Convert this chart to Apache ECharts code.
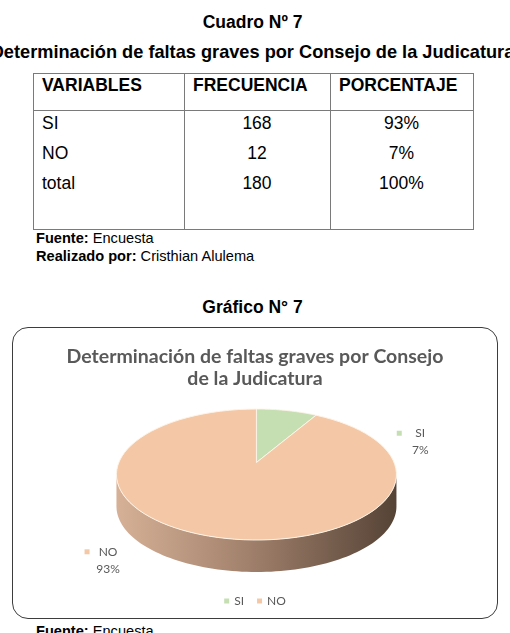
<!DOCTYPE html>
<html>
<head>
<meta charset="utf-8">
<script src="https://cdn.jsdelivr.net/npm/echarts@6/dist/echarts.min.js"></script>
<style>
body {
  margin: 0;
  width: 510px;
  height: 633px;
  overflow: hidden;
  background: #fff;
  position: relative;
  font-family: "Liberation Sans", Arial, sans-serif;
  color: #000;
}
.t {
  position: absolute;
  white-space: nowrap;
  height: 20px;
  line-height: 20px;
}
.head {
  left: 0;
  width: 505px;
  text-align: center;
  font-weight: bold;
  font-size: 17.5px;
}
.cell { font-size: 17.5px; }
.note { font-size: 14.6px; left: 36px; }
.line { position: absolute; background: #7a7a7a; }
#chart {
  position: absolute;
  left: 12px;
  top: 327px;
  width: 486px;
  height: 292px;
  box-sizing: border-box;
  border: 1.5px solid #3d3d3d;
  border-radius: 16px;
}
</style>
</head>
<body>
<div class="t head" style="top:12px">Cuadro Nº 7</div>
<div class="t head" style="top:42px;font-size:18.2px;left:-10px;width:525px">Determinación de faltas graves por Consejo de la Judicatura</div>
<div id="table"></div>
<div class="t note" style="top:228px"><b>Fuente:</b> Encuesta</div>
<div class="t note" style="top:246px"><b>Realizado por:</b> Cristhian Alulema</div>
<div class="t head" style="top:297px">Gráfico N° 7</div>
<div id="chart"></div>
<div class="t note" style="top:621px"><b>Fuente:</b> Encuesta</div>

<script>
// tabla (Cuadro Nº 7)
const tableHeaders = ["VARIABLES", "FRECUENCIA", "PORCENTAJE"];
const tableVariables = ["SI", "NO", "total"];
const tableFrecuencia = [168, 12, 180];
const tablePorcentaje = ["93%", "7%", "100%"];

// gráfico (Gráfico N° 7)
const pieNames = ["SI", "NO"];
const pieShares = [7, 93];
const pieColors = ["#c5dfb3", "#f4c8a6"];

// --- tabla en HTML ---
const tbl = document.getElementById("table");
const colEdges = [33, 184, 330, 473];
const tableTop = 73, headBottom = 110, tableBottom = 229;
const rowCenters = [123, 153, 183];

function addLine(x, y, w, h) {
  let d = document.createElement("div");
  d.className = "line";
  d.style.left = x + "px";
  d.style.top = y + "px";
  d.style.width = w + "px";
  d.style.height = h + "px";
  tbl.appendChild(d);
}
function addText(txt, left, width, cy, align, bold) {
  let d = document.createElement("div");
  d.className = "t cell";
  d.textContent = txt;
  d.style.left = left + "px";
  d.style.width = width + "px";
  d.style.top = (cy - 10) + "px";
  d.style.textAlign = align;
  if (bold) d.style.fontWeight = "bold";
  tbl.appendChild(d);
}
addLine(colEdges[0], tableTop, colEdges[3] - colEdges[0] + 1, 1);
addLine(colEdges[0], headBottom, colEdges[3] - colEdges[0] + 1, 1);
addLine(colEdges[0], tableBottom, colEdges[3] - colEdges[0] + 1, 1);
for (let x of colEdges) addLine(x, tableTop, 1, tableBottom - tableTop);

for (let c = 0; c < tableHeaders.length; c++) {
  addText(tableHeaders[c], colEdges[c] + 9, colEdges[c + 1] - colEdges[c] - 9, 85, "left", true);
}
for (let r = 0; r < tableVariables.length; r++) {
  addText(tableVariables[r], colEdges[0] + 9, 140, rowCenters[r], "left", false);
  addText(String(tableFrecuencia[r]), colEdges[1], colEdges[2] - colEdges[1], rowCenters[r], "center", false);
  addText(tablePorcentaje[r], colEdges[2], colEdges[3] - colEdges[2], rowCenters[r], "center", false);
}

// --- pastel 3D con series custom ---
const PIE = { cx: 0.503, cy: 146.5, rx: 140, ry: 65.5, depth: 32, apexShift: -12 };
const labelFont = "12px Lato";
const labelColor = "#595959";

function renderSlice(params, api) {
  const i = params.seriesIndex;
  const total = pieShares.reduce((a, b) => a + b, 0);
  let start = 0;
  for (let k = 0; k < i; k++) start += pieShares[k];
  const value = api.value(0);
  const a0 = start / total * 2 * Math.PI;
  const a1 = (start + value) / total * 2 * Math.PI;
  const cx = api.getWidth() * PIE.cx, cy = PIE.cy, rx = PIE.rx, ry = PIE.ry;
  const pt = (a, dy) => [cx + rx * Math.sin(a), cy - ry * Math.cos(a) + (dy || 0)];
  const n = 90;
  const children = [];

  // lado visible (mitad frontal)
  const s0 = Math.max(a0, Math.PI / 2), s1 = Math.min(a1, 1.5 * Math.PI);
  if (s1 > s0) {
    const top = [], bot = [];
    for (let j = 0; j <= n; j++) {
      const a = s0 + (s1 - s0) * j / n;
      top.push(pt(a));
      bot.push(pt(a, PIE.depth));
    }
    children.push({
      type: "polygon",
      shape: { points: top.concat(bot.reverse()) },
      style: {
        fill: {
          type: "linear", x: cx - rx, y: 0, x2: cx + rx, y2: 0, global: true,
          colorStops: [
            { offset: 0, color: "#d6b197" },
            { offset: 0.45, color: "#a4836e" },
            { offset: 1, color: "#554336" },
          ],
        },
      },
    });
  }

  // cara superior
  const face = [[cx, cy + PIE.apexShift]];
  for (let j = 0; j <= n; j++) face.push(pt(a0 + (a1 - a0) * j / n));
  children.push({
    type: "polygon",
    shape: { points: face },
    style: { fill: api.visual("color"), stroke: "#fdf3e6", lineWidth: 1 },
  });

  // etiqueta
  const mid = (a0 + a1) / 2;
  let tx, ty;
  if (Math.sin(mid) >= 0) {
    tx = cx + rx * 1.17;
    ty = cy - ry * 0.63;
  } else {
    tx = cx - rx * 1.06;
    ty = cy + ry * 1.18;
  }
  const pct = Math.round(value / total * 100) + "%";
  children.push({
    type: "rect",
    shape: { x: tx - 23.5, y: ty - 2.5, width: 5, height: 5 },
    style: { fill: api.visual("color") },
  });
  children.push({
    type: "text", x: tx, y: ty,
    style: { text: pieNames[i], fill: labelColor, font: labelFont, align: "center", verticalAlign: "middle" },
  });
  children.push({
    type: "text", x: tx, y: ty + 17,
    style: { text: pct, fill: labelColor, font: labelFont, align: "center", verticalAlign: "middle" },
  });

  return { type: "group", children: children };
}

const myChart = echarts.init(document.getElementById("chart"));
const option = {
  animation: false,
  title: {
    text: "Determinación de faltas graves por Consejo\nde la Judicatura",
    left: "center",
    top: 18,
    padding: [0, 10, 0, 0],
    textStyle: {
      fontFamily: "Lato",
      fontWeight: "bold",
      fontSize: 19.5,
      lineHeight: 22,
      color: "#595959",
    },
  },
  legend: {
    data: pieNames,
    left: "center",
    top: 262,
    icon: "rect",
    itemWidth: 5,
    itemHeight: 5,
    itemGap: 13,
    selectedMode: false,
    textStyle: { fontFamily: "Lato", fontSize: 12, color: labelColor },
  },
  series: pieNames.map((name, i) => ({
    type: "custom",
    name: name,
    coordinateSystem: "none",
    silent: true,
    itemStyle: { color: pieColors[i] },
    renderItem: renderSlice,
    data: [[pieShares[i]]],
  })),
};
myChart.setOption(option);
</script>
</body>
</html>
